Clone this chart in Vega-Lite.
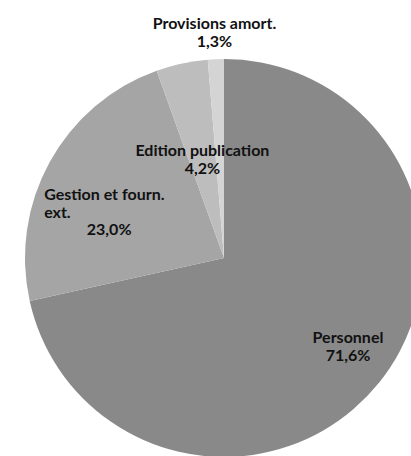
{
  "$schema": "https://vega.github.io/schema/vega-lite/v6.json",
  "width": 374,
  "height": 396,
  "padding": {"left": 37, "top": 60, "right": 0, "bottom": 0},
  "autosize": {"type": "none"},
  "background": "white",
  "config": {"view": {"stroke": null}, "text": {"font": "Lato", "fontWeight": "bold", "fontSize": 16, "color": "#111111"}},
  "data": {
    "values": [
      {"poste": "Personnel", "part": 71.6, "ordre": 1, "nom": "Personnel", "pct": "71,6%"},
      {"poste": "Gestion et fourn. ext.", "part": 23.0, "ordre": 2, "nom": "Gestion et fourn.\next.", "pct": "23,0%"},
      {"poste": "Edition publication", "part": 4.2, "ordre": 3, "nom": "Edition publication", "pct": "4,2%"},
      {"poste": "Provisions amort.", "part": 1.3, "ordre": 4, "nom": "Provisions amort.", "pct": "1,3%"}
    ]
  },
  "transform": [{"calculate": "datum.nom + '\\n' + datum.pct", "as": "lab"}],
  "encoding": {
    "theta": {"field": "part", "type": "quantitative", "stack": true},
    "order": {"field": "ordre", "type": "quantitative"}
  },
  "layer": [
    {
      "mark": {"type": "arc", "outerRadius": 199},
      "encoding": {
        "color": {
          "field": "poste",
          "type": "nominal",
          "scale": {
            "domain": ["Personnel", "Gestion et fourn. ext.", "Edition publication", "Provisions amort."],
            "range": ["#898989", "#a5a5a5", "#bdbdbd", "#d4d4d4"]
          },
          "legend": null
        }
      }
    },
    {
      "mark": {"type": "text", "radius": 234, "lineHeight": 17.5, "lineBreak": "\n", "align": "center", "baseline": "middle"},
      "encoding": {"text": {"condition": {"test": "datum.poste === 'Provisions amort.'", "field": "lab"}, "value": ""}}
    },
    {
      "mark": {"type": "text", "radius": 109, "dx": 1.5, "lineHeight": 17.5, "lineBreak": "\n", "align": "center", "baseline": "middle"},
      "encoding": {"text": {"condition": {"test": "datum.poste === 'Edition publication'", "field": "lab"}, "value": ""}}
    },
    {
      "mark": {"type": "text", "radius": 130, "dx": -66, "dy": 0, "lineHeight": 17.5, "lineBreak": "\n", "align": "left", "baseline": "middle"},
      "encoding": {"text": {"condition": {"test": "datum.poste === 'Gestion et fourn. ext.'", "field": "nom"}, "value": ""}}
    },
    {
      "mark": {"type": "text", "radius": 130, "dx": -1, "dy": 34.5, "align": "center", "baseline": "middle"},
      "encoding": {"text": {"condition": {"test": "datum.poste === 'Gestion et fourn. ext.'", "field": "pct"}, "value": ""}}
    },
    {
      "mark": {"type": "text", "radius": 159, "dy": -19.5, "lineHeight": 17.5, "lineBreak": "\n", "align": "center", "baseline": "middle"},
      "encoding": {"text": {"condition": {"test": "datum.poste === 'Personnel'", "field": "lab"}, "value": ""}}
    }
  ]
}
